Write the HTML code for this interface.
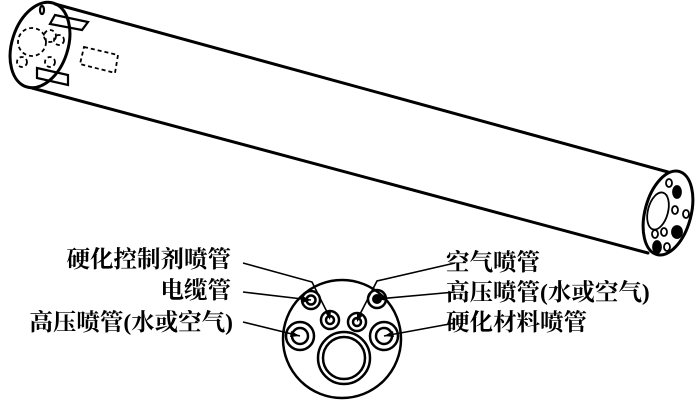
<!DOCTYPE html>
<html><head><meta charset="utf-8"><style>
html,body{margin:0;padding:0;background:#fff;width:700px;height:402px;overflow:hidden}
svg{display:block}
text{font-family:"Liberation Serif","Noto Serif CJK SC",serif;font-size:23.5px;font-weight:bold;fill:#000}
</style></head><body>
<svg width="700" height="402" viewBox="0 0 700 402" xmlns="http://www.w3.org/2000/svg">
<g fill="none" stroke="#000" stroke-width="3" stroke-linecap="round">
<path d="M55 4 L668 172"/>
<path d="M32 88 L648 253"/>
<ellipse cx="40" cy="45" rx="28" ry="44" transform="rotate(18 40 45)"/>
<ellipse cx="668" cy="213" rx="23" ry="43" transform="rotate(15 668 213)"/>
</g>
<g fill="none" stroke="#000" stroke-width="1.8" stroke-dasharray="4 3">
<circle cx="32" cy="42" r="14"/>
<circle cx="50" cy="36" r="6"/>
<circle cx="59" cy="40" r="5"/>
<circle cx="22" cy="62" r="5"/>
<circle cx="50" cy="62" r="5"/>
<path d="M84 47 L118 55 L115 73 L80 64 Z"/>
</g>
<g fill="none" stroke="#000" stroke-width="2.2">
<path d="M55 15 L88 22 L82 30 L50 24 Z"/>
<path d="M37 68 L68 75 L68 85 L37 78 Z"/>
<ellipse cx="42" cy="10" rx="2" ry="4"/>
</g>
<g stroke="#000" stroke-width="1.8">
<ellipse cx="658" cy="211" rx="10" ry="19" fill="none" transform="rotate(15 658 211)"/>
<ellipse cx="669" cy="183" rx="3" ry="4" fill="none"/>
<ellipse cx="677" cy="192" rx="4" ry="6" fill="#000"/>
<ellipse cx="675" cy="210" rx="3" ry="4" fill="none"/>
<ellipse cx="686" cy="214" rx="3" ry="4" fill="none"/>
<ellipse cx="664" cy="232" rx="3" ry="4" fill="none"/>
<ellipse cx="677" cy="232" rx="5" ry="6" fill="#000"/>
<ellipse cx="655" cy="234" rx="3" ry="4" fill="none"/>
<ellipse cx="657" cy="247" rx="4" ry="6" fill="#000"/>
<ellipse cx="667" cy="247" rx="3" ry="4" fill="none"/>
</g>
<g fill="none" stroke="#000" stroke-width="2.5">
<circle cx="342" cy="339" r="59"/>
<circle cx="344" cy="358" r="26"/>
<circle cx="344" cy="358" r="21"/>
<circle cx="311" cy="300" r="9"/>
<circle cx="311" cy="300" r="4.5"/>
<circle cx="330" cy="320" r="9"/>
<circle cx="330" cy="320" r="4"/>
<circle cx="357" cy="322" r="9"/>
<circle cx="357" cy="322" r="4"/>
<circle cx="377" cy="299" r="9"/>
<circle cx="300" cy="336" r="14"/>
<circle cx="300" cy="336" r="8"/>
<circle cx="384" cy="336" r="14"/>
<circle cx="384" cy="336" r="8"/>
</g>
<circle cx="377" cy="299" r="5" fill="#000"/>
<g fill="none" stroke="#000" stroke-width="1.6">
<path d="M243 263 L312 282 L330 318"/>
<path d="M243 292 L311 300"/>
<path d="M243 322 L300 336"/>
<path d="M455 263 L377 281 L357 320"/>
<path d="M455 292 L377 299"/>
<path d="M455 323 L384 336"/>
</g>
<g fill="#000">
<path d="M330 320 l-5 -8 l6 -1 z"/>
<path d="M311 300 l-9 -4 l0 7 z"/>
<path d="M300 336 l-9 -5 l-1 6 z"/>
<path d="M357 322 l0 -9 l6 2 z"/>
<path d="M377 299 l9 -4 l1 6 z"/>
<path d="M384 336 l9 -5 l1 6 z"/>
</g>
<text x="231" y="267" text-anchor="end">硬化控制剂喷管</text>
<text x="231" y="298" text-anchor="end">电缆管</text>
<text x="233" y="330" text-anchor="end">高压喷管(水或空气)</text>
<text x="446" y="270">空气喷管</text>
<text x="446" y="300">高压喷管(水或空气)</text>
<text x="446" y="330">硬化材料喷管</text>
</svg>
</body></html>
